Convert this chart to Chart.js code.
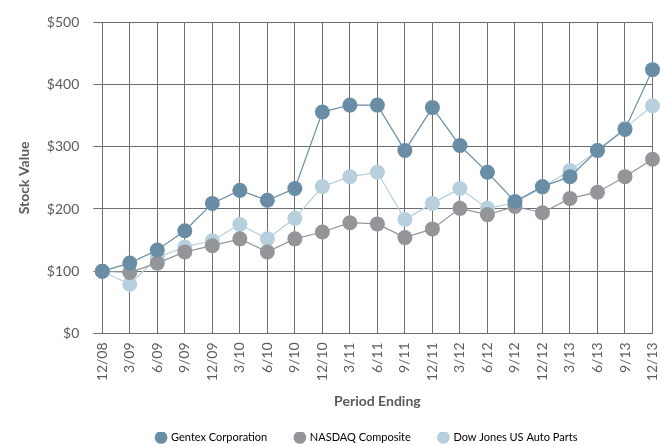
<!DOCTYPE html>
<html>
<head>
<meta charset="utf-8">
<script src="https://cdn.jsdelivr.net/npm/chart.js@4.4.1/dist/chart.umd.min.js"></script>
<style>
  html, body { margin: 0; padding: 0; background: #fff; }
  #wrap { width: 660px; height: 446px; }
</style>
</head>
<body>
<div id="wrap"><canvas id="c" width="660" height="446"></canvas></div>
<script>
const periods = ['12/08','3/09','6/09','9/09','12/09','3/10','6/10','9/10','12/10','3/11','6/11',
  '9/11','12/11','3/12','6/12','9/12','12/12','3/13','6/13','9/13','12/13'];
const gentex = [100,113,134,165,209,230,214,233,356,367,367,294,363,302,259,212,236,252,294,328,424];
const nasdaq = [100,98,113,131,141,152,131,152,163,178,176,154,168,201,191,204,194,217,227,252,280];
const dowAuto = [100,79,122,139,149,175,152,185,236,252,259,183,209,233,201,210,235,262,294,330,366];
const yTicks = [0,100,200,300,400,500];

const textColor = '#5b5b5b';
const gridColor = '#6e6e6e';
const font = "Lato, 'Open Sans', sans-serif";

function series(label, data, color){
  return {
    label: label,
    data: data,
    borderColor: color,
    backgroundColor: color,
    pointBackgroundColor: color,
    pointBorderWidth: 0,
    pointRadius: 7.5,
    pointHoverRadius: 7.5,
    borderWidth: 1.2,
    tension: 0,
    clip: false
  }
}

// legend sits a bit right of canvas centre and lower down
const shiftLegend = {
  id: 'shiftLegend',
  afterLayout(chart){
    const l = chart.legend;
    l.left += 31; l.right += 31;
    l.top += 7; l.bottom += 7;
  }
};

const gap = '          ';

new Chart(document.getElementById('c').getContext('2d'), {
  type: 'line',
  data: {
    labels: periods,
    datasets: [
      series('Gentex Corporation', gentex, '#6a8da6'),
      series('NASDAQ Composite', nasdaq, '#939598'),
      series('Dow Jones US Auto Parts', dowAuto, '#b8cfdd')
    ]
  },
  plugins: [shiftLegend],
  options: {
    responsive: false,
    animation: false,
    layout: { padding: { top: 20, right: 4, left: 16, bottom: 0 } },
    plugins: {
      tooltip: { enabled: false },
      legend: {
        position: 'bottom',
        labels: {
          usePointStyle: true,
          pointStyle: 'circle',
          boxWidth: 9,
          boxHeight: 9,
          padding: 0,
          color: textColor,
          font: { family: font, size: 11 },
          generateLabels(chart){
            const n = chart.data.datasets.length;
            return chart.data.datasets.map((d, i) => ({
              text: d.label + (i < n - 1 ? gap : ''),
              fillStyle: d.borderColor,
              strokeStyle: d.borderColor,
              lineWidth: 0,
              pointStyle: 'circle',
              datasetIndex: i
            }));
          }
        }
      }
    },
    scales: {
      x: {
        offset: false,
        afterFit(scale){ scale.paddingRight = 0; scale.paddingLeft = 0; },
        grid: { color: gridColor, lineWidth: 1, drawTicks: false },
        border: { color: gridColor },
        ticks: {
          color: textColor,
          font: { family: font, size: 14 },
          maxRotation: 90,
          minRotation: 90,
          padding: 9,
          autoSkip: false
        },
        title: {
          display: true,
          text: 'Period Ending',
          color: textColor,
          font: { family: font, size: 14, weight: 'bold' },
          padding: { top: 3, bottom: 15 }
        }
      },
      y: {
        min: 0,
        max: 500,
        afterBuildTicks(axis){ axis.ticks = yTicks.map(v => ({ value: v })); },
        grid: { color: gridColor, lineWidth: 1, tickLength: 9 },
        border: { color: gridColor },
        ticks: {
          color: textColor,
          font: { family: font, size: 14 },
          padding: 14,
          callback: v => '$' + v
        },
        title: {
          display: true,
          text: 'Stock Value',
          color: textColor,
          font: { family: font, size: 14, weight: 'bold' },
          padding: { top: 0, bottom: 0 }
        }
      }
    }
  }
});
</script>
</body>
</html>
